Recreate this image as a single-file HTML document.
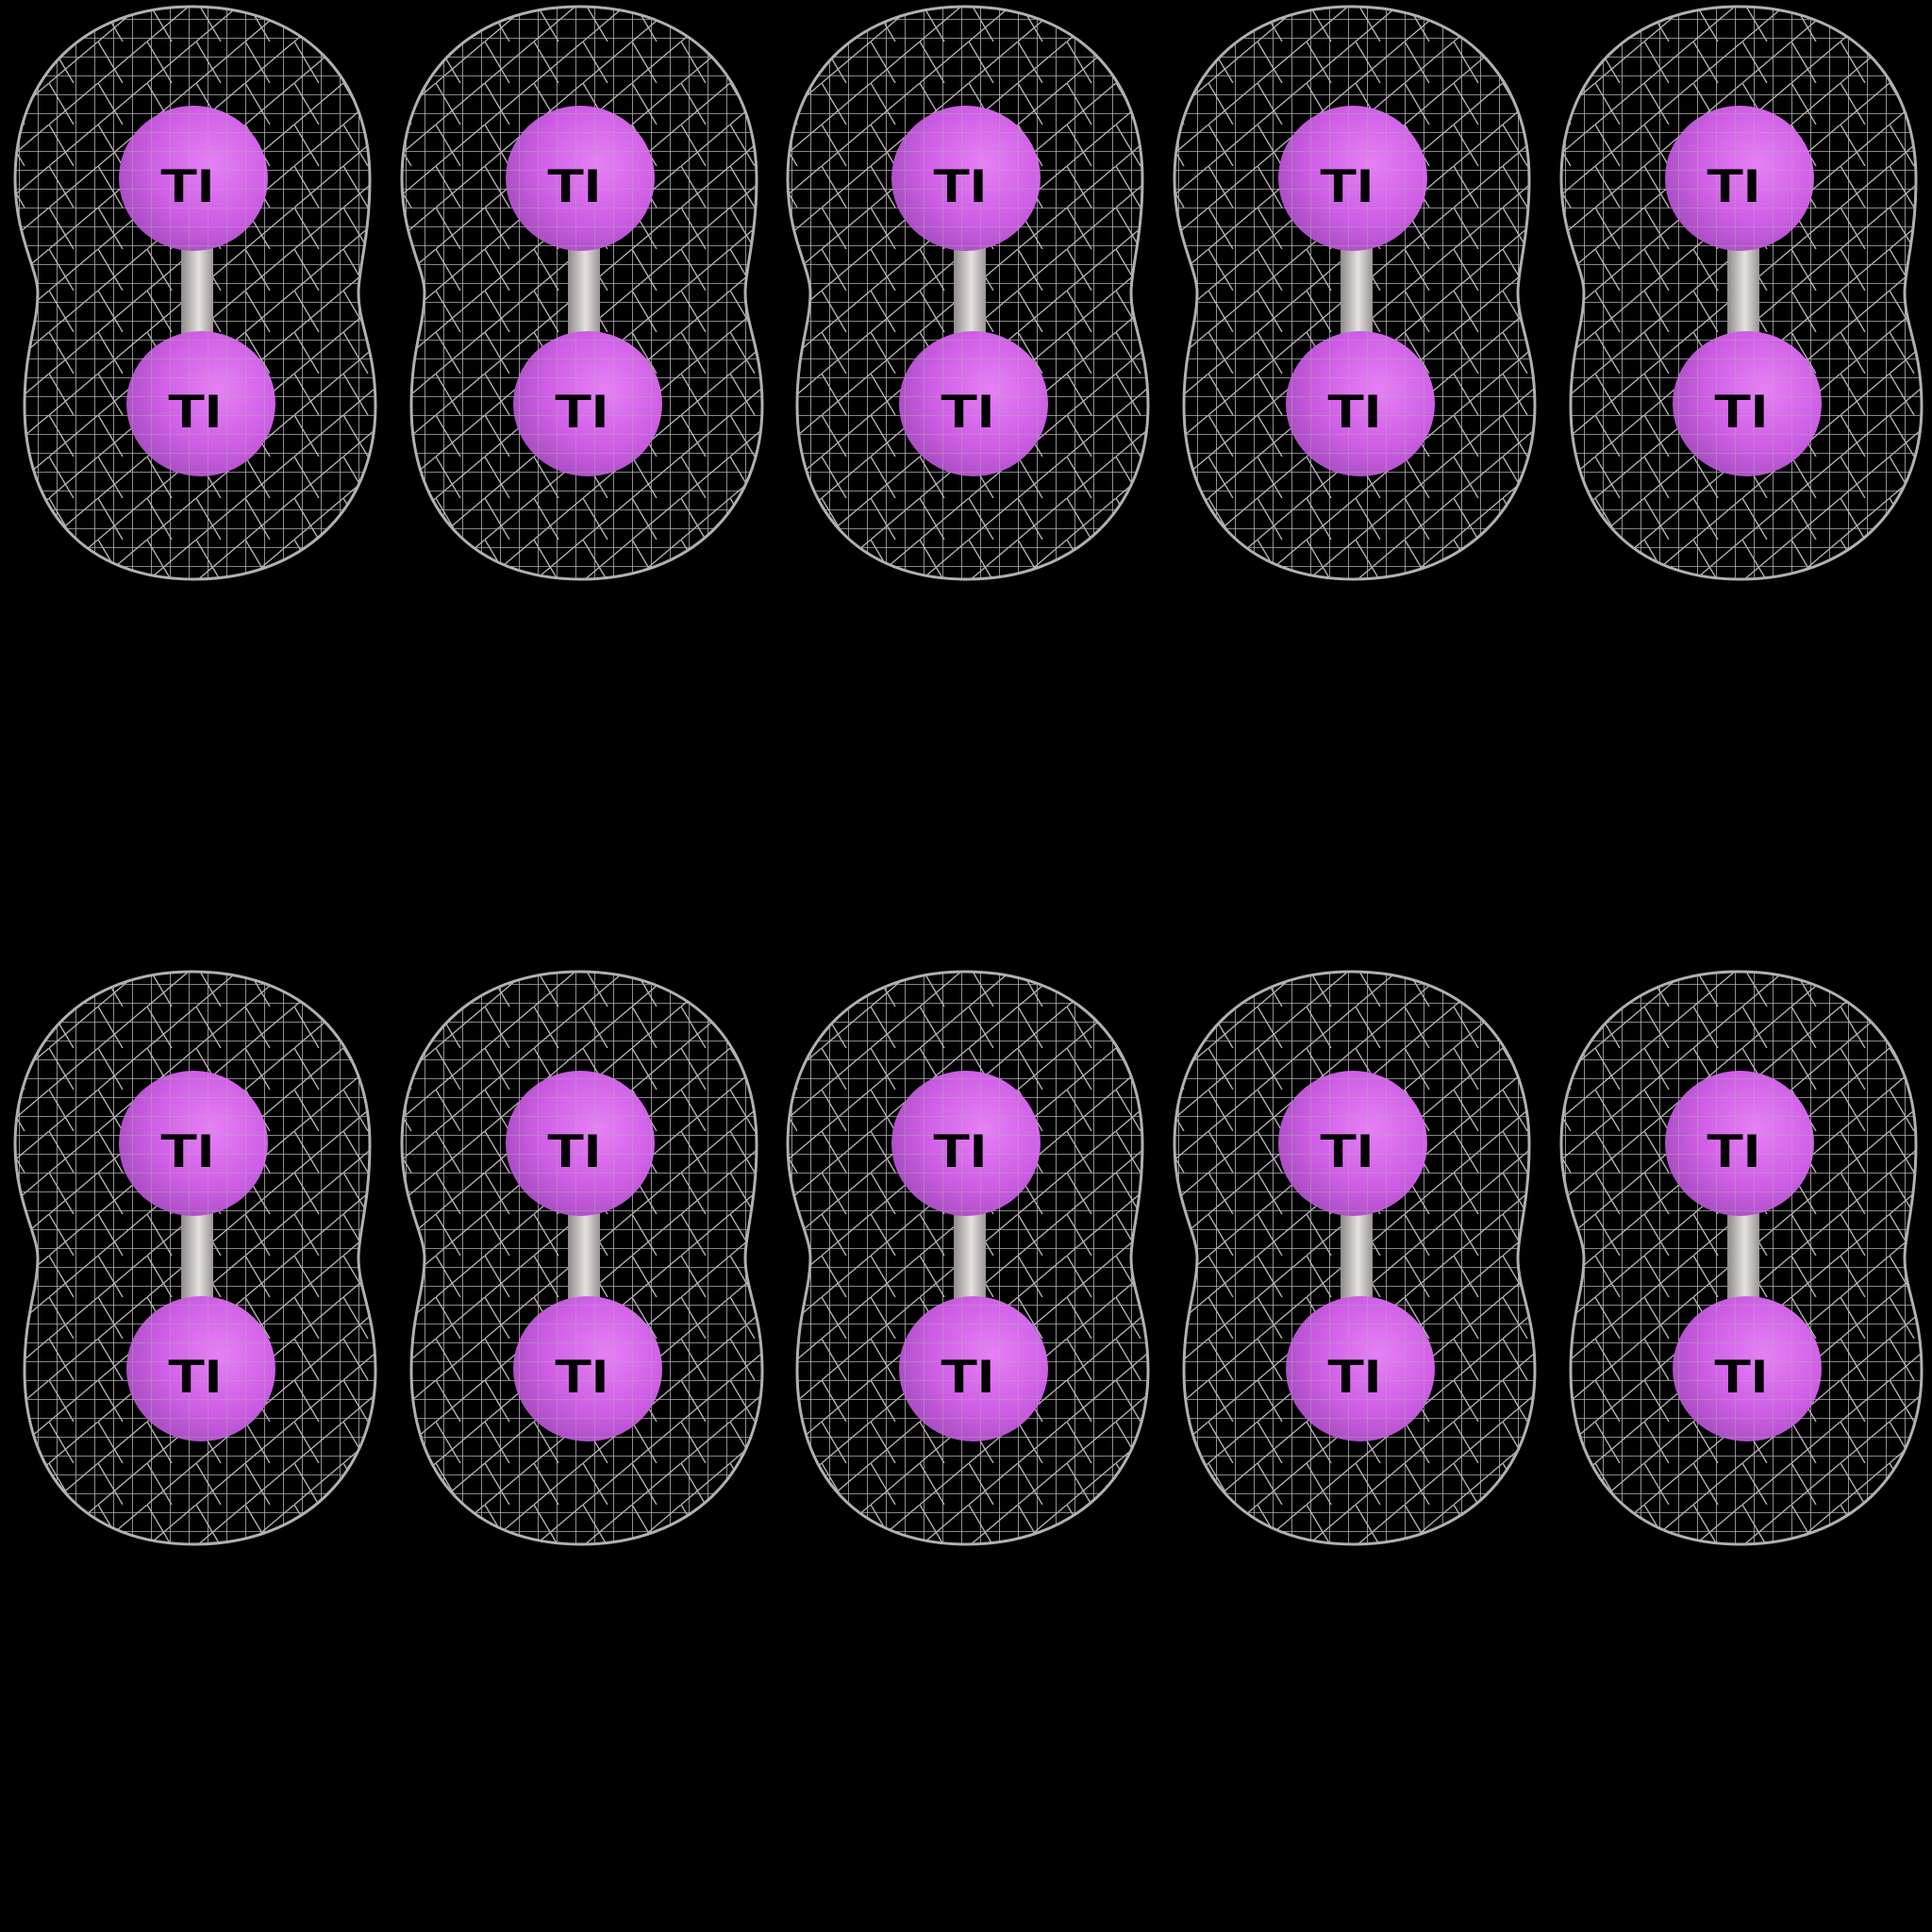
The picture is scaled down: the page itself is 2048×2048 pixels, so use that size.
<!DOCTYPE html>
<html><head><meta charset="utf-8">
<style>
html,body{margin:0;padding:0;background:#000;}
svg{display:block;}
</style></head>
<body>
<svg id="scene" width="2048" height="2048" viewBox="0 0 2048 2048" xmlns="http://www.w3.org/2000/svg">
<defs>
  <radialGradient id="atomGrad" cx="0.62" cy="0.4" r="0.8">
    <stop offset="0" stop-color="#e680f5"/>
    <stop offset="0.5" stop-color="#cf5ee6"/>
    <stop offset="0.85" stop-color="#a64cc0"/>
    <stop offset="1" stop-color="#8a5aa0"/>
  </radialGradient>
  <linearGradient id="bondGrad" x1="0" x2="1" y1="0" y2="0">
    <stop offset="0" stop-color="#8f8a8a"/>
    <stop offset="0.55" stop-color="#e6e2e0"/>
    <stop offset="1" stop-color="#9a9494"/>
  </linearGradient>
  <pattern id="grid" width="20" height="20" patternUnits="userSpaceOnUse">
    <path d="M0 0H20M0 0V20" stroke="#b4afb3" stroke-width="1.6" fill="none"/>
  </pattern>
  <pattern id="diag" width="52" height="44" patternUnits="userSpaceOnUse">
    <path d="M0 44L52 0M0 0L26 44" stroke="#b4afb3" stroke-width="1.4" fill="none"/>
  </pattern>
</defs>
<rect width="2048" height="2048" fill="#000"/>
<g id="mols"></g>
</svg>
<script>
const colOffsets = [0, 410, 819, 1229, 1639];
const rowOffsets = [0, 1023];
const atomCenters = [[205, 189], [213, 428]];
const NS = 'http://www.w3.org/2000/svg';
const root = document.getElementById('mols');
const peanut = 'M204,7 C320,7 392,80 392,190 C392,250 380,285 380,310 C380,345 398,370 398,430 C398,540 320,614 206,614 C90,614 26,540 26,430 C26,370 40,345 40,310 C40,285 16,250 16,190 C16,80 90,7 204,7 Z';
function mk(tag, attrs, parent){ const e=document.createElementNS(NS,tag); for(const k in attrs) e.setAttribute(k,attrs[k]); parent.appendChild(e); return e; }
let idx=0;
rowOffsets.forEach((ry, r) => {
  colOffsets.forEach((cx, c) => {
    idx++;
    const g = mk('g', {transform:`translate(${cx},${ry})`}, root);
    
    
    const cid = 'clip' + idx;
    const cp = mk('clipPath', {id:cid}, g);
    mk('path', {d:peanut}, cp);
    const wg = mk('g', {'clip-path':`url(#${cid})`}, g);
    
    
    mk('rect', {x:0, y:0, width:420, height:620, fill:'url(#grid)'}, wg);
    mk('rect', {x:0, y:0, width:420, height:620, fill:'url(#diag)'}, wg);
    const bond = mk('rect', {x:192, y:262, width:34, height:106, fill:'url(#bondGrad)'}, g);
    
    
    atomCenters.forEach((ac, a) => {
      const at = mk('ellipse', {cx:ac[0], cy:ac[1], rx:79, ry:77, fill:'url(#atomGrad)'}, g);
      
      
      const ov = mk('ellipse', {cx:ac[0], cy:ac[1], rx:79, ry:77, fill:'url(#grid)', opacity:'0.55'}, g);
      
      
      const t = mk('text', {x:ac[0]-35, y:ac[1]+25, 'font-family':'Liberation Sans, sans-serif', 'font-size':'50', 'font-weight':'bold', fill:'#000', textLength:'57', lengthAdjust:'spacingAndGlyphs'}, g);
      t.textContent = 'TI';
      
      
    });
    const outline = mk('path', {d:peanut, fill:'none', stroke:'#b3aeb2', 'stroke-width':'3'}, g);
    
    
  });
});
</script>
</body></html>
